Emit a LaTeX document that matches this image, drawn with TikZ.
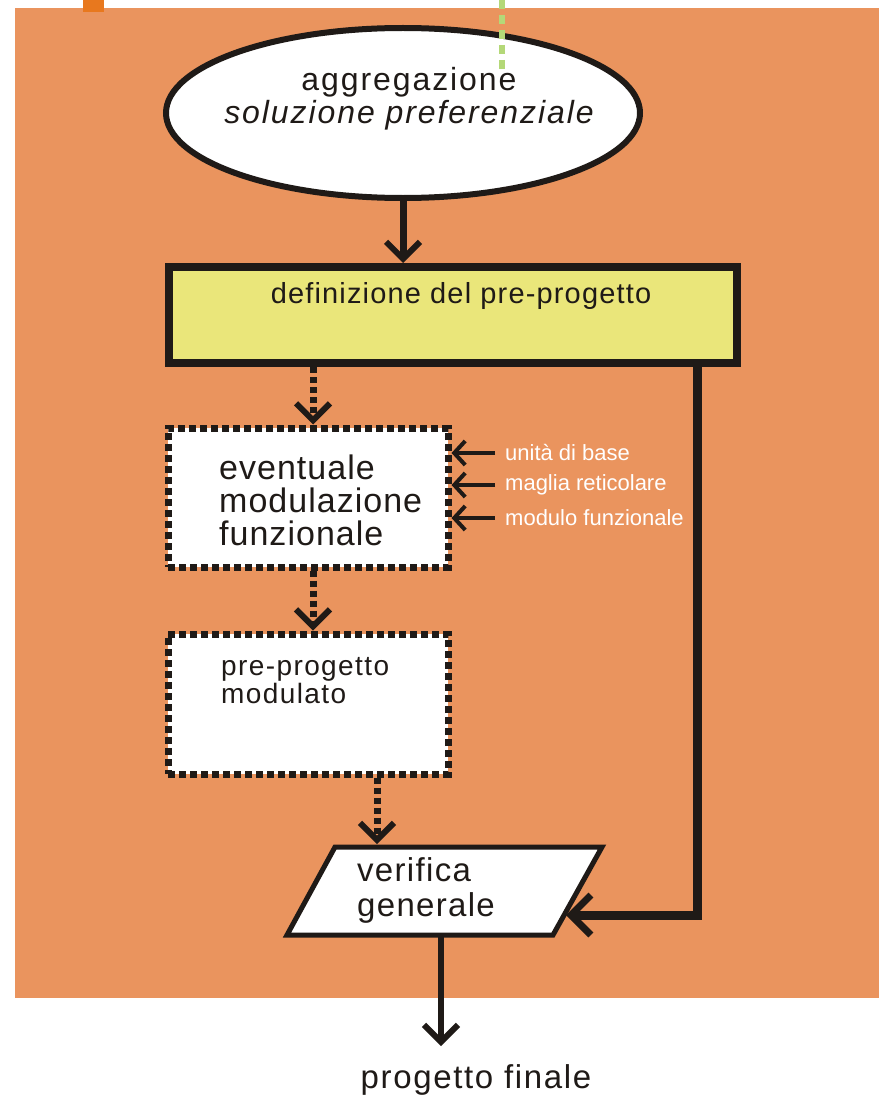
\documentclass[tikz,border=0pt]{standalone}
\usepackage{fontspec}
\setmainfont{Liberation Sans}
\usetikzlibrary{arrows.meta,shapes.geometric}
\definecolor{bgorange}{RGB}{234,148,94}
\definecolor{boxyellow}{RGB}{234,230,122}
\definecolor{ink}{RGB}{31,26,23}
\definecolor{tagorange}{RGB}{232,120,30}
\definecolor{dashgreen}{RGB}{180,216,120}
\tikzset{
  vtip/.style={-{Straight Barb[length=17pt,width=34pt,line width=6pt]}},
  mainline/.style={draw=ink,line width=7pt,vtip},
  dotline/.style={draw=ink,line width=7pt,dash pattern=on 6pt off 4pt,vtip},
  dotbox/.style={draw=ink,fill=white,line width=7pt,dash pattern=on 7pt off 4pt,rectangle,minimum width=280pt,inner sep=0pt},
  sidearrow/.style={draw=ink,line width=4pt,-{Straight Barb[length=11pt,width=24pt,line width=4pt]}},
  sidelabel/.style={text=white,anchor=west,inner sep=0pt,font=\fontsize{22}{24}\selectfont},
  bigtext/.style={text=ink,inner sep=0pt,font=\fontsize{32}{33}\selectfont\addfontfeature{LetterSpace=6}},
}
\begin{document}
\begin{tikzpicture}[x=1pt,y=-1pt]
\useasboundingbox (0,0) rectangle (879,1097);
\fill[white] (0,0) rectangle (879,1097);
\fill[bgorange] (15,8) rectangle (879,998);
\fill[tagorange] (83,0) rectangle (104,12);

% ellipse
\node[ellipse,draw=ink,fill=white,line width=6pt,minimum width=474pt,minimum height=170pt,inner sep=0pt] (agg) at (403,113) {};
\draw[dashgreen,line width=6pt,dash pattern=on 9pt off 6pt] (502,0) -- (502,72);
\node[bigtext,align=center] (aggt) at (409,99) {aggregazione\\\itshape soluzione preferenziale};

% yellow rectangle
\node[rectangle,draw=ink,fill=boxyellow,line width=8pt,minimum width=568pt,minimum height=96pt,inner sep=0pt] (def) at (452.5,315) {};
\node[text=ink,inner sep=0pt,font=\fontsize{29}{30}\selectfont\addfontfeature{LetterSpace=4}] (deft) at (461,296) {definizione del pre-progetto};

\draw[mainline] (agg.south) -- (agg.south |- def.north);

% box 1
\node[dotbox,minimum height=139pt] (mod) at (308,497.5) {};
\node[bigtext,align=left,anchor=north west,font=\fontsize{34}{33}\selectfont\addfontfeature{LetterSpace=3}] (modt) at (219,455) {eventuale\\modulazione\\funzionale};

% box 2
\node[dotbox,minimum height=140pt] (pre) at (308,704) {};
\node[text=ink,inner sep=0pt,align=left,anchor=north west,font=\fontsize{28}{28}\selectfont\addfontfeature{LetterSpace=5}] (pret) at (221,657) {pre-progetto\\modulato};

% parallelogram
\coordinate (p1) at (335,847);
\coordinate (p2) at (602,847);
\coordinate (p3) at (553,935);
\coordinate (p4) at (287,935);
\draw[ink,fill=white,line width=5pt,line join=miter] (p1) -- (p2) -- (p3) -- (p4) -- cycle;
\node[bigtext,align=left,anchor=north west,font=\fontsize{33}{35}\selectfont\addfontfeature{LetterSpace=4}] (vert) at (357,857) {verifica\\generale};
\coordinate (vtop) at (377,844);
\coordinate (vright) at (566,915);
\coordinate (vbot) at (441,937);
\coordinate (corner) at (697,915);
\coordinate (fin) at (441,1046);

% dotted connectors
\draw[dotline] (def.south -| mod.north) ++(5,0) coordinate (d1) -- (d1 |- mod.north);
\draw[dotline] ([xshift=5pt]mod.south) -- ([xshift=5pt]pre.north);
\draw[dotline] (pre.south -| vtop) -- (vtop);

% right feedback line
\draw[draw=ink,line width=9pt,-{Straight Barb[length=20pt,width=40pt,line width=7pt]}] (def.south -| corner) -- (corner) -- (vright);

% side arrows and labels
\node[sidelabel] (l1) at (505,453) {unità di base};
\node[sidelabel] (l2) at (505,485) {maglia reticolare};
\node[sidelabel] (l3) at (505,518) {modulo funzionale};
\draw[sidearrow] (l1.west) ++(-10,0) -- (l1.west -| mod.east);
\draw[sidearrow] (l2.west) ++(-10,0) -- (l2.west -| mod.east);
\draw[sidearrow] (l3.west) ++(-10,0) -- (l3.west -| mod.east);

% final
\draw[draw=ink,line width=6pt,vtip] (vbot) -- (fin);
\node[bigtext,font=\fontsize{33}{33}\selectfont\addfontfeature{LetterSpace=5}] (fint) at (476,1080) {progetto finale};
\end{tikzpicture}
\end{document}
